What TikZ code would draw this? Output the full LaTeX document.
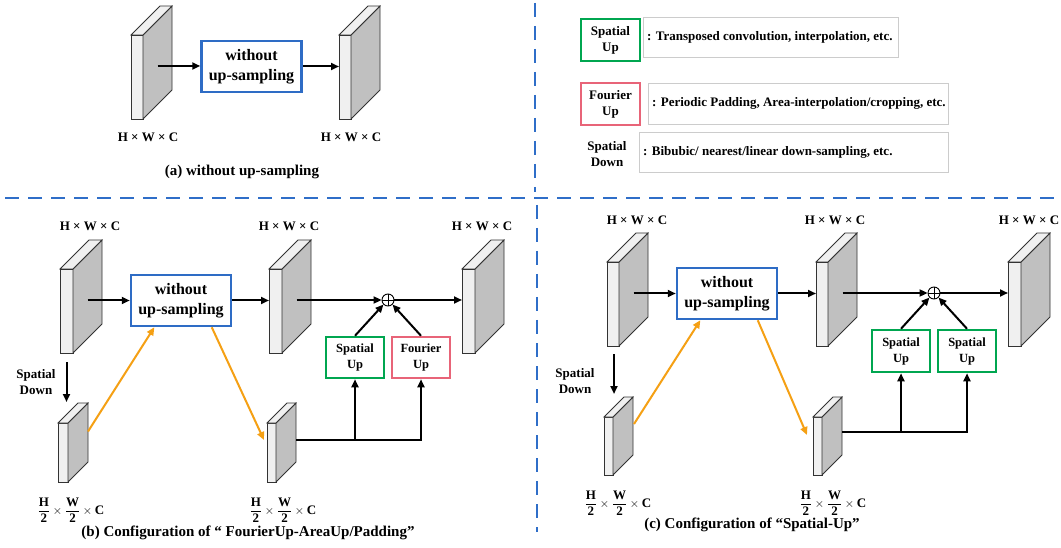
\documentclass[tikz,border=0pt]{standalone}
\usepackage{fontspec}
\setmainfont{Liberation Serif}
\usetikzlibrary{arrows.meta,calc}
\definecolor{bblue}{RGB}{46,108,197}
\definecolor{dblue}{RGB}{47,110,200}
\definecolor{sgreen}{RGB}{0,166,80}
\definecolor{fpink}{RGB}{232,100,120}
\definecolor{aorange}{RGB}{245,160,20}
\definecolor{frontc}{RGB}{240,240,240}
\definecolor{sidec}{RGB}{192,192,192}
\tikzset{
 arr/.style={line width=2pt, -{Triangle[length=8pt,width=7pt]}},
 oarr/.style={line width=2pt, draw=aorange, -{Triangle[length=8pt,width=7pt]}},
 mainbox/.style={draw=bblue, line width=2.5pt, fill=white, minimum width=100pt, minimum height=51pt, align=center, font=\fontsize{16}{20}\selectfont\bfseries, inner sep=0pt},
 supbox/.style={draw=sgreen, line width=2.5pt, fill=white, minimum width=58pt, minimum height=41pt, align=center, font=\fontsize{12.5}{16}\selectfont\bfseries, inner sep=0pt},
 fupbox/.style={supbox, draw=fpink},
 lbl/.style={font=\fontsize{13}{16}\selectfont\bfseries, align=center, inner sep=0pt},
 captext/.style={font=\fontsize{15}{18}\selectfont\bfseries, inner sep=0pt},
 legbox/.style={draw=black!20, line width=0.8pt, anchor=north west, inner sep=0pt},
 legtext/.style={font=\fontsize{13}{16}\selectfont\bfseries, anchor=west, inner sep=0pt},
 divider/.style={draw=dblue, line width=2.5pt, dash pattern=on 14pt off 9pt},
 osum/.style={circle, draw, line width=0.9pt, minimum size=12pt, inner sep=0pt, fill=white},
 blockedge/.style={draw=black!80, line width=0.8pt},
}
% name, x0, y0, w, h, d
\newcommand\fblock[6]{%
 \node[blockedge, fill=frontc, minimum width=#4pt, minimum height=#5pt, inner sep=0pt, outer sep=0pt, anchor=north west] (#1) at (#2,-#3) {};
 \draw[blockedge, fill=sidec] (#1.north east) -- ++(#6,#6) -- ++(0,-#5) -- ++(-#6,-#6) -- cycle;
 \draw[blockedge, fill=frontc] (#1.north west) -- ++(#6,#6) -- ++(#4,0) -- (#1.north east) -- cycle;
 \coordinate (#1-s) at ($(#1.east)+(#6/2,#6/2-3.5)$);
}
\newcommand\hwc{H × W × C}
\newcommand\hwchalf{$\displaystyle\frac{\mathbf{H}}{\mathbf{2}}\times\frac{\mathbf{W}}{\mathbf{2}}\times\mathbf{C}$}
\begin{document}
\begin{tikzpicture}[x=1pt,y=1pt]
\useasboundingbox[fill=white] (0,0) rectangle (1061,-548);

% dividers
\coordinate (h1) at (5,-198); \coordinate (h2) at (1058,-198);
\coordinate (v1) at (535,-3); \coordinate (v2) at (535,-192);
\coordinate (v3) at (537,-205); \coordinate (v4) at (537,-532);
\draw[divider] (h1) -- (h2);
\draw[divider] (v1) -- (v2);
\draw[divider] (v3) -- (v4);

% ---------- (a) ----------
\fblock{a1}{131}{35}{12}{84}{29}
\fblock{a2}{339}{35}{12}{84}{29}
\node[mainbox] (am) at (251.5,-66.5) {without\\up-sampling};
\draw[arr] (a1-s) -- (a1-s -| am.west);
\draw[arr] (am.east) -- (am.east -| a2.west);
\node[lbl] (la1) at (148,-137) {\hwc};
\node[lbl] (la2) at (351,-137) {\hwc};
\node[captext] (capa) at (242,-172) {(a) without up-sampling};

% ---------- legend ----------
\node[supbox, font=\fontsize{13}{16}\selectfont\bfseries, minimum width=59pt, minimum height=42pt] (lsu) at (610.5,-40) {Spatial\\Up};
\node[legbox, minimum width=255pt, minimum height=40pt] (lb1) at (643,-17) {};
\node[legtext] (lt1) at ([xshift=4pt]lb1.west) {: Transposed convolution, interpolation, etc.};
\node[fupbox, font=\fontsize{13}{16}\selectfont\bfseries, minimum width=59pt, minimum height=42pt] (lfu) at (610.5,-104) {Fourier\\Up};
\node[legbox, minimum width=300pt, minimum height=41pt] (lb2) at (648,-83) {};
\node[legtext] (lt2) at ([xshift=4pt]lb2.west) {: Periodic Padding, Area-interpolation/cropping, etc.};
\node[lbl] (lsd) at (607,-154) {Spatial\\Down};
\node[legbox, minimum width=309pt, minimum height=40pt] (lb3) at (639,-132) {};
\node[legtext] (lt3) at ([xshift=4pt]lb3.west) {: Bibubic/ nearest/linear down-sampling, etc.};

% ---------- (b) ----------
\fblock{b1}{60}{269}{13}{84}{29}
\fblock{b2}{269}{269}{13}{84}{29}
\fblock{b3}{462}{269}{13}{84}{29}
\fblock{b4}{267}{423}{9}{59}{20}
\fblock{b5}{58}{423}{10}{59}{20}
\node[lbl] (lb1) at (90,-226) {\hwc};
\node[lbl] (lb2) at (289,-226) {\hwc};
\node[lbl] (lb3) at (482,-226) {\hwc};
\node[mainbox] (bm) at (181,-300.5) {without\\up-sampling};
\node[osum] (bo) at (388,-300) {};
\draw[line width=0.9pt] (bo.north) -- (bo.south) (bo.west) -- (bo.east);
\node[supbox] (bsu) at (355,-357.5) {Spatial\\Up};
\node[fupbox] (bfu) at (421,-357.5) {Fourier\\Up};
\coordinate (b4-o) at ($(b4.east)+(20,13)$);
\coordinate (b4-i) at ($(b4.west)+(-3,12.5)$);
\coordinate (b5-o) at ($(b5.east)+(20,21)$);
\draw[arr] (b1-s |- bm.west) -- (bm.west);
\draw[arr] (bm.east) -- (bm.east -| b2.west);
\draw[arr] (b2-s) -- (b2-s -| bo.west);
\draw[arr] (bo.east) -- (bo.east -| b3.west);
\draw[arr] (bsu.north) -- (bo.south west);
\draw[arr] (bfu.north) -- (bo.south east);
\draw[arr] (b4-o) -| (bfu.south);
\draw[arr] (bsu.south |- b4-o) -- (bsu.south);
\draw[arr] ([yshift=-9pt]b1.south) -- ([yshift=21pt]b1.south |- b5.north);
\node[lbl] (lbsd) at (36,-382) {Spatial\\Down};
\draw[oarr] (b5-o) -- ($(bm.south west)!0.24!(bm.south east)$);
\draw[oarr] ($(bm.south west)!0.8!(bm.south east)$) -- (b4-i);
\node[lbl] (lb4) at (283,-510) {\hwchalf};
\node[lbl] (lb5) at (71,-510) {\hwchalf};
\node[captext] (capb) at (248,-533) {(b) Configuration of “ FourierUp-AreaUp/Padding”};

% ---------- (c) ----------
\fblock{c1}{607}{262}{12}{84}{29}
\fblock{c2}{816}{262}{12}{84}{29}
\fblock{c3}{1008}{262}{13}{84}{29}
\fblock{c4}{813}{417}{9}{58}{20}
\fblock{c5}{604}{417}{9}{58}{20}
\node[lbl] (lc1) at (637,-220) {\hwc};
\node[lbl] (lc2) at (835,-220) {\hwc};
\node[lbl] (lc3) at (1029,-220) {\hwc};
\node[mainbox] (cm) at (727,-293.5) {without\\up-sampling};
\node[osum] (co) at (934,-293) {};
\draw[line width=0.9pt] (co.north) -- (co.south) (co.west) -- (co.east);
\node[supbox, minimum height=42pt] (csu1) at (901,-351) {Spatial\\Up};
\node[supbox, minimum height=42pt] (csu2) at (967,-351) {Spatial\\Up};
\coordinate (c4-o) at ($(c4.east)+(20,14)$);
\coordinate (c4-i) at ($(c4.west)+(-6,11)$);
\coordinate (c5-o) at ($(c5.east)+(21,22)$);
\draw[arr] (c1-s |- cm.west) -- (cm.west);
\draw[arr] (cm.east) -- (cm.east -| c2.west);
\draw[arr] (c2-s) -- (c2-s -| co.west);
\draw[arr] (co.east) -- (co.east -| c3.west);
\draw[arr] (csu1.north) -- (co.south west);
\draw[arr] (csu2.north) -- (co.south east);
\draw[arr] (c4-o) -| (csu2.south);
\draw[arr] (csu1.south |- c4-o) -- (csu1.south);
\draw[arr] ([xshift=1pt,yshift=-8pt]c1.south) -- ([xshift=1pt,yshift=23pt]c1.south |- c5.north);
\node[lbl] (lcsd) at (575,-381) {Spatial\\Down};
\draw[oarr] (c5-o) -- ($(cm.south west)!0.24!(cm.south east)$);
\draw[oarr] ($(cm.south west)!0.8!(cm.south east)$) -- (c4-i);
\node[lbl] (lc4) at (833,-503) {\hwchalf};
\node[lbl] (lc5) at (618,-503) {\hwchalf};
\node[captext] (capc) at (752,-525) {(c) Configuration of “Spatial-Up”};
\end{tikzpicture}
\end{document}
